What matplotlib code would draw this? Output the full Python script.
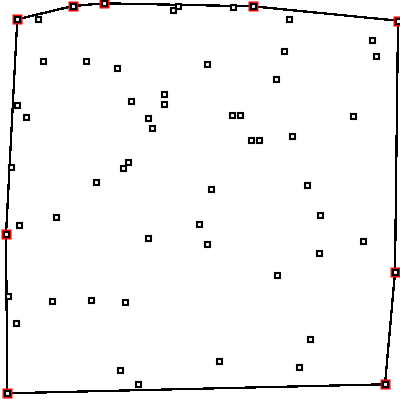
import numpy as np
import matplotlib
matplotlib.use("Agg")
import matplotlib.pyplot as plt

# point positions (canvas units, y grows downward)
xs = [17.3, 38.3, 73, 104, 173.3, 178.3, 233.3, 252.7, 289.3, 398,
      43, 86, 117, 207.3, 284.3, 372.3, 376.3, 276.3, 17, 26,
      131.3, 164.3, 164.3, 148.3, 152.3, 232.3, 240.3, 353.3, 251.3, 258.7,
      292.3, 128.3, 123.3, 11.3, 96.3, 211.3, 307.3, 56.3, 19.3, 6,
      199.3, 320.3, 148.3, 207.3, 363.3, 319.3, 395, 277.3, 8.3, 52.3,
      91.3, 125.3, 16.3, 310.3, 218.7, 298.7, 120.3, 138, 385, 7.3]
ys = [19.3, 19.3, 6, 3.3, 10.3, 6.3, 7.3, 6.3, 19.3, 20.7,
      61, 61, 68, 64.3, 51.3, 40.3, 56.3, 79.3, 105, 117,
      101.3, 94.3, 104.3, 118.3, 128.3, 115.3, 115.3, 116.3, 140.3, 140.3,
      136.3, 162.3, 168.3, 167.3, 182.3, 189.3, 185.3, 217.3, 225.3, 234.3,
      224.3, 215.3, 238.3, 244.3, 241.3, 253.3, 272.3, 275.3, 296, 301.3,
      300.3, 302.3, 323.3, 339.3, 361.3, 367.3, 370.3, 384, 384.3, 393.3]


def convex_hull(px, py):
    pts = sorted(zip(px, py))

    def cross(o, a, b):
        return (a[0] - o[0]) * (b[1] - o[1]) - (a[1] - o[1]) * (b[0] - o[0])

    lower, upper = [], []
    for p in pts:
        while len(lower) >= 2 and cross(lower[-2], lower[-1], p) <= 0:
            lower.pop()
        lower.append(p)
    for p in reversed(pts):
        while len(upper) >= 2 and cross(upper[-2], upper[-1], p) <= 0:
            upper.pop()
        upper.append(p)
    return lower[:-1] + upper[:-1]


hull = convex_hull(xs, ys)
hx = [p[0] for p in hull] + [hull[0][0]]
hy = [p[1] for p in hull] + [hull[0][1]]

fig = plt.figure(figsize=(4, 4), dpi=100)
ax = fig.add_axes([0, 0, 1, 1])
ax.plot(hx, hy, color="black", lw=0.9, antialiased=False, zorder=1)
ax.plot(hx[:-1], hy[:-1], ls="none", marker="s", ms=7.6, mfc="red", mec="none", zorder=2)
ax.plot(xs, ys, ls="none", marker="s", ms=3.6, mfc="white", mec="black", mew=1.5, zorder=3)
ax.set_xlim(0, 400)
ax.set_ylim(400, 0)
ax.axis("off")
fig.savefig("out.png", dpi=100)
